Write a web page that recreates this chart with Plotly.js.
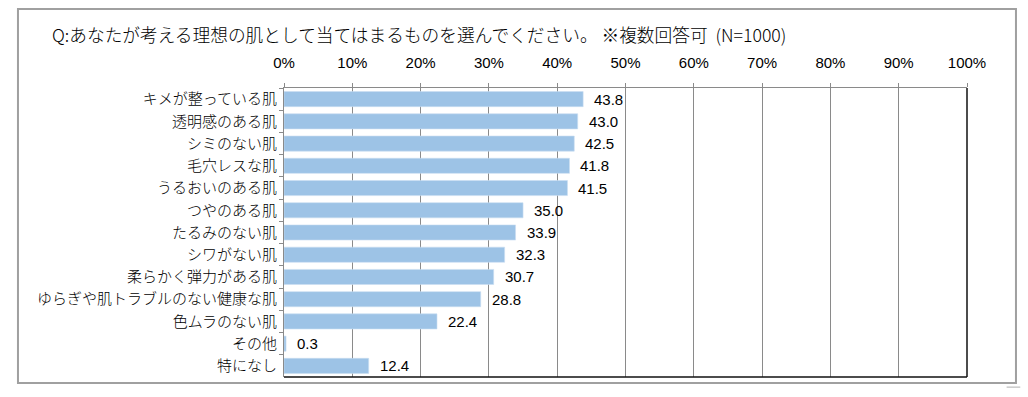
<!DOCTYPE html>
<html>
<head>
<meta charset="utf-8">
<script src="https://cdn.plot.ly/plotly-3.0.1.min.js"></script>
<style>html,body{margin:0;padding:0;background:#fff;}#chart{width:1028px;height:397px;}</style>
</head>
<body>
<div id="chart"></div>
<script>
var categories = ["キメが整っている肌","透明感のある肌","シミのない肌","毛穴レスな肌","うるおいのある肌","つやのある肌","たるみのない肌","シワがない肌","柔らかく弾力がある肌","ゆらぎや肌トラブルのない健康な肌","色ムラのない肌","その他","特になし"];
var values = [43.8,43.0,42.5,41.8,41.5,35.0,33.9,32.3,30.7,28.8,22.4,0.3,12.4];
var tickVals = [0,10,20,30,40,50,60,70,80,90,100];
var tickText = ["0%","10%","20%","30%","40%","50%","60%","70%","80%","90%","100%"];
var titleText = "Q:あなたが考える理想の肌として当てはまるものを選んでください。 ※複数回答可  (N=1000)";

var jp = '"Noto Sans CJK JP", sans-serif';
var num = '"Liberation Sans", Arial, sans-serif';

var trace = {
  type: 'bar', orientation: 'h',
  x: values, y: categories,
  marker: {color: '#9dc3e6', line: {color: '#c9def2', width: 0.6}},
  width: 0.68,
  hoverinfo: 'none'
};

var annotations = values.map(function(v, i){
  return {x: v, y: categories[i], xref: 'x', yref: 'y', text: v.toFixed(1),
    showarrow: false, xanchor: 'left', xshift: 9,
    font: {family: num, size: 15, color: '#000'}};
});
annotations.push({xref: 'paper', yref: 'paper', x: -0.342, y: 1.187, xanchor: 'left', yanchor: 'middle',
  text: titleText, showarrow: false, font: {family: jp, size: 17.7, color: '#000', weight: 300}});

var layout = {
  width: 1028, height: 397,
  margin: {l: 284, r: 61, t: 88, b: 20},
  paper_bgcolor: '#fff', plot_bgcolor: '#fff',
  showlegend: false,
  bargap: 0.32,
  xaxis: {
    side: 'top', range: [0, 100], tickvals: tickVals, ticktext: tickText,
    showgrid: true, gridcolor: '#8a8a8a', gridwidth: 1,
    showline: true, linecolor: '#8a8a8a', linewidth: 1,
    ticks: 'outside', ticklen: 4, tickcolor: '#8a8a8a',
    ticklabelstandoff: 9,
    zeroline: false, fixedrange: true,
    tickfont: {family: num, size: 15, color: '#000'}
  },
  yaxis: {
    type: 'category', autorange: 'reversed',
    showline: true, linecolor: '#8a8a8a', linewidth: 1,
    ticks: 'outside', ticklen: 4, tickcolor: '#8a8a8a', tickson: 'boundaries',
    showgrid: false, zeroline: false, fixedrange: true,
    ticklabelstandoff: 3,
    tickfont: {family: jp, size: 15, color: '#000', weight: 300}
  },
  annotations: annotations,
  shapes: [
    {type: 'rect', xref: 'paper', yref: 'paper', x0: -0.3895, x1: 1.0717, y0: -0.0208, y1: 1.273,
      line: {color: '#a0a0a0', width: 2}, fillcolor: 'rgba(0,0,0,0)'},
    {type: 'line', xref: 'paper', yref: 'paper', x0: 1, x1: 1, y0: 0, y1: 1, line: {color: '#111', width: 1.5}},
    {type: 'line', xref: 'paper', yref: 'paper', x0: 0, x1: 1, y0: 0, y1: 0, line: {color: '#111', width: 1.5}},
    {type: 'line', xref: 'paper', yref: 'paper', x0: 1.058, x1: 1.078, y0: -0.035, y1: -0.035, line: {color: '#b0b0b0', width: 1}}
  ]
};

Plotly.newPlot('chart', [trace], layout, {staticPlot: true, displayModeBar: false});
</script>
</body>
</html>
